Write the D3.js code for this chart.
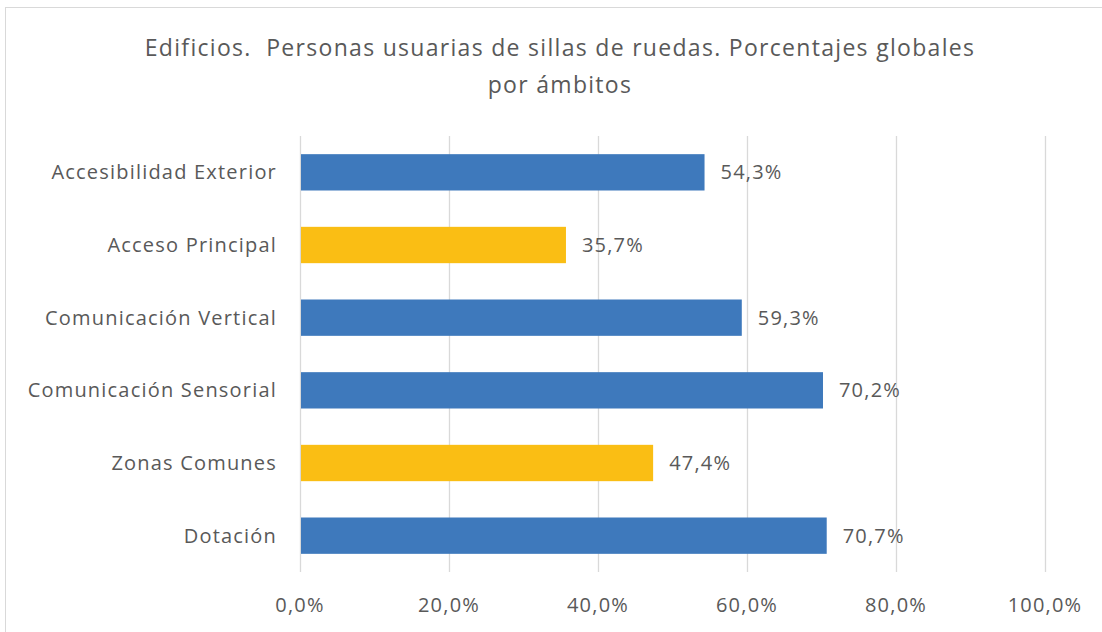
<!DOCTYPE html>
<html>
<head>
<meta charset="utf-8">
<script src="https://cdn.jsdelivr.net/npm/d3@7"></script>
<style>
  body { margin: 0; background: #fff; }
  svg text { font-family: "Open Sans", "Noto Sans", sans-serif; fill: #595959; white-space: pre; }
</style>
</head>
<body>
<div id="chart"></div>
<script>
var categories = ['Accesibilidad Exterior', 'Acceso Principal', 'Comunicación Vertical',
  'Comunicación Sensorial', 'Zonas Comunes', 'Dotación']
var values = [54.3, 35.7, 59.3, 70.2, 47.4, 70.7]
var highlighted = ['Acceso Principal', 'Zonas Comunes']
var tickValues = [0, 20, 40, 60, 80, 100]
var titleLines = ['Edificios.  Personas usuarias de sillas de ruedas. Porcentajes globales', 'por ámbitos']

var W = 1102, H = 632
var svg = d3.select('#chart').append('svg').attr('width', W).attr('height', H)

// chart border
svg.append('rect')
  .attr('x', 5.5).attr('y', 7.5)
  .attr('width', W + 10).attr('height', H + 10)
  .attr('fill', 'none').attr('stroke', '#d9d9d9')

var x = d3.scaleLinear().domain([0, 100]).range([300, 1045])
var y = d3.scaleBand().domain(categories).range([136, 572]).paddingInner(0.5).paddingOuter(0.25)

var fmt = function(v) { return d3.format('.1f')(v).replace('.', ',') + '%' }

// gridlines
svg.append('g').selectAll('line').data(tickValues).join('line')
  .attr('x1', function(d) { return x(d) + 0.5 }).attr('x2', function(d) { return x(d) + 0.5 })
  .attr('y1', 136).attr('y2', 572)
  .attr('stroke', '#d9d9d9').attr('stroke-width', 1.3)

// bars
svg.append('g').selectAll('rect').data(categories).join('rect')
  .attr('x', x(0) + 1)
  .attr('y', function(d) { return y(d) })
  .attr('width', function(d, i) { return x(values[i]) - x(0) - 1 })
  .attr('height', y.bandwidth())
  .attr('fill', function(d) { return highlighted.indexOf(d) >= 0 ? '#FABE14' : '#3E79BC' })

// value labels
svg.append('g').selectAll('text').data(categories).join('text')
  .attr('x', function(d, i) { return x(values[i]) + 16 })
  .attr('y', function(d) { return y(d) + y.bandwidth() / 2 })
  .attr('dy', '0.35em')
  .attr('font-size', 20)
  .attr('letter-spacing', 1.2)
  .attr('fill', '#404040')
  .text(function(d, i) { return fmt(values[i]) })

// category labels
svg.append('g').selectAll('text').data(categories).join('text')
  .attr('x', 277)
  .attr('y', function(d) { return y(d) + y.bandwidth() / 2 })
  .attr('dy', '0.35em')
  .attr('text-anchor', 'end')
  .attr('font-size', 20)
  .attr('letter-spacing', 1.2)
  .text(function(d) { return d })

// x axis labels
svg.append('g').selectAll('text').data(tickValues).join('text')
  .attr('x', function(d) { return x(d) })
  .attr('y', 605)
  .attr('dy', '0.35em')
  .attr('text-anchor', 'middle')
  .attr('font-size', 20)
  .attr('letter-spacing', 1.2)
  .text(function(d) { return fmt(d) })

// title
svg.append('g').selectAll('text').data(titleLines).join('text')
  .attr('x', 560)
  .attr('y', function(d, i) { return 48 + i * 37 })
  .attr('dy', '0.35em')
  .attr('text-anchor', 'middle')
  .attr('font-size', 23)
  .attr('letter-spacing', 1.3)
  .text(function(d) { return d })
</script>
</body>
</html>
